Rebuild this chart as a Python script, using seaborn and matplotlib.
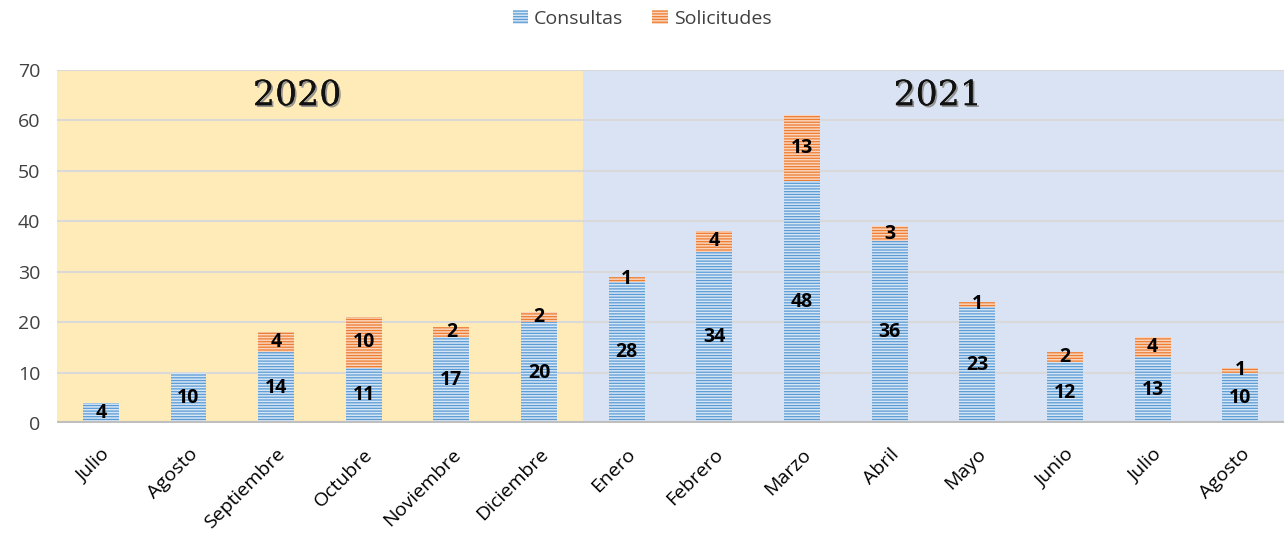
import matplotlib
matplotlib.use("Agg")
import matplotlib.pyplot as plt
import matplotlib.patheffects as pe
from matplotlib.patches import Patch
import seaborn as sns
import pandas as pd

meses = ["Julio", "Agosto", "Septiembre", "Octubre", "Noviembre", "Diciembre",
         "Enero", "Febrero", "Marzo", "Abril", "Mayo", "Junio", "Julio", "Agosto"]
consultas = [4, 10, 14, 11, 17, 20, 28, 34, 48, 36, 23, 12, 13, 10]
solicitudes = [0, 0, 4, 10, 2, 2, 1, 4, 13, 3, 1, 2, 4, 1]
anios = ["2020", "2021"]
yticks = [0, 10, 20, 30, 40, 50, 60, 70]

sns.set_theme(style="white")
plt.rcParams['font.family'] = ['Open Sans', 'DejaVu Sans']
plt.rcParams['hatch.linewidth'] = 1.1

BLUE = "#5B9BD5"
ORANGE = "#ED7D31"
BLUE_H = "#D6E6F5"
ORANGE_H = "#FAD4BC"

pos = list(range(len(meses)))
df = pd.DataFrame({"pos": pos, "mes": meses, "consultas": consultas,
                   "total": [c + s for c, s in zip(consultas, solicitudes)]})

fig = plt.figure(figsize=(12.84, 5.33), dpi=100)
ax = fig.add_axes([0.0444, 0.2064, 0.9556, 0.6623])

sns.barplot(data=df, x="pos", y="total", ax=ax, color=ORANGE, width=0.41,
            saturation=1, native_scale=True, zorder=2, errorbar=None)
sns.barplot(data=df, x="pos", y="consultas", ax=ax, color=BLUE, width=0.41,
            saturation=1, native_scale=True, zorder=3, errorbar=None)

for ci, cont in enumerate(ax.containers):
    hatch_col = ORANGE_H if ci == 0 else BLUE_H
    for p in cont:
        p.set_hatch("------")
        p.set_edgecolor(hatch_col)
        p.set_linewidth(0)

# background regions
ax.axvspan(-0.5, 5.5, ymin=0, ymax=1, facecolor="#FFEBB7", zorder=0, lw=0)
ax.axvspan(5.5, 13.5, ymin=0, ymax=1, facecolor="#DAE3F3", zorder=0, lw=0)

for y in yticks[1:]:
    ax.axhline(y, color="#D9D9D9", lw=1.5, zorder=1)

for x, c, s in zip(pos, consultas, solicitudes):
    ax.text(x, c / 2, str(c), ha="center", va="center", fontsize=14,
            fontweight="bold", color="black", zorder=5)
    if s > 0:
        ax.text(x, c + s / 2, str(s), ha="center", va="center", fontsize=14,
                fontweight="bold", color="black", zorder=5)

ax.axhline(0, color="#BFBFBF", lw=3, zorder=4)

ax.set_xlim(-0.5, 13.5)
ax.set_ylim(0, 70)
ax.set_yticks(yticks)
ax.set_yticklabels([str(v) for v in yticks], fontsize=14, color="#404040")
ax.set_xticks(pos)
ax.set_xticklabels(meses, rotation=45, ha="right", rotation_mode="anchor",
                   fontsize=14, color="black")
ax.tick_params(axis="x", length=0, pad=16)
ax.tick_params(axis="y", length=0, pad=12)
ax.set_xlabel("")
ax.set_ylabel("")
for sp in ax.spines.values():
    sp.set_visible(False)

shadow = [pe.withSimplePatchShadow(offset=(1.3, -1.3), shadow_rgbFace="#8C8C8C", alpha=0.9),
          pe.Normal()]
ax.text(2.24, 65.0, anios[0], ha="center", va="center", fontsize=25,
        family="DejaVu Serif", color="#111111", path_effects=shadow, zorder=6)
ax.text(9.55, 65.0, anios[1], ha="center", va="center", fontsize=25,
        family="DejaVu Serif", color="#111111", path_effects=shadow, zorder=6)

handles = [Patch(facecolor=BLUE, edgecolor=BLUE_H, hatch="------", lw=0, label="Consultas"),
           Patch(facecolor=ORANGE, edgecolor=ORANGE_H, hatch="------", lw=0, label="Solicitudes")]
fig.legend(handles=handles, loc="center", bbox_to_anchor=(0.5, 0.965), ncol=2,
           frameon=False, fontsize=14, handlelength=0.8, handleheight=0.8,
           handletextpad=0.3, columnspacing=1.5, labelcolor="#404040")

fig.savefig("out.png", dpi=100)
